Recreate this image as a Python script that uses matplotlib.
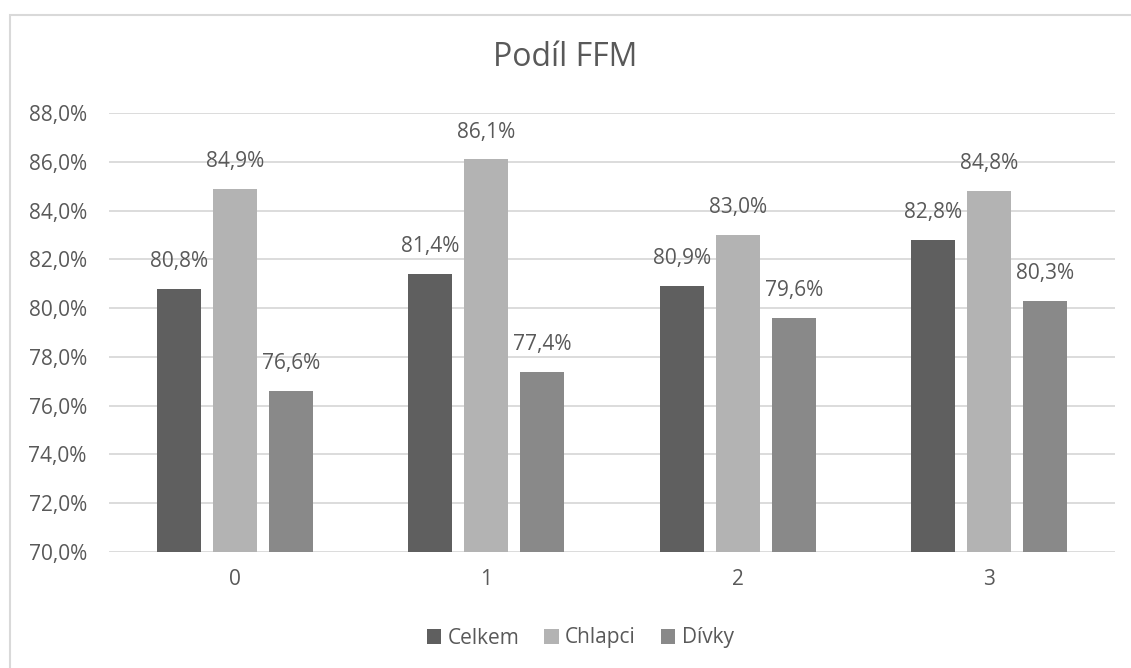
"""Podil FFM - grouped bar chart."""

import matplotlib
matplotlib.use("Agg")
import matplotlib.pyplot as plt
from matplotlib.patches import Rectangle
import numpy as np

categories = ["0", "1", "2", "3"]
series_names = ["Celkem", "Chlapci", "Dívky"]
celkem = [80.8, 81.4, 80.9, 82.8]
chlapci = [84.9, 86.1, 83.0, 84.8]
divky = [76.6, 77.4, 79.6, 80.3]
colors = ["#5f5f5f", "#b3b3b3", "#898989"]
yticks = [70, 72, 74, 76, 78, 80, 82, 84, 86, 88]

text_color = "#595959"
plt.rcParams["font.family"] = ["Open Sans", "DejaVu Sans"]

fig = plt.figure(figsize=(11.31, 6.68), dpi=100)
fig.patches.append(Rectangle((10 / 1131, -0.1), 1.2, 1 - 15 / 668 + 0.1,
                             transform=fig.transFigure, fill=False,
                             edgecolor="#d9d9d9", linewidth=1.5))
ax = fig.add_axes([109 / 1131, 1 - 552 / 668, (1115 - 109) / 1131, (552 - 113) / 668])

x = np.arange(len(categories))
width = 0.175
step = 0.2227
for i, (vals, name) in enumerate(zip([celkem, chlapci, divky], series_names)):
    pos = x + (i - 1) * step
    bars = ax.bar(pos, [v - 70 for v in vals], width, bottom=70,
                  color=colors[i], label=name, zorder=3)
    for p, v in zip(pos, vals):
        ax.annotate(f"{v:.1f}%".replace(".", ","), (p, v), xytext=(0, 12),
                    textcoords="offset points", ha="center", va="bottom",
                    fontsize=15, color=text_color)

ax.set_xlim(-0.5, len(categories) - 0.5)
ax.set_ylim(70, 88)
ax.set_yticks(yticks)
ax.set_yticklabels([f"{t:.1f}%".replace(".", ",") for t in yticks])
ax.set_xticks(x)
ax.set_xticklabels(categories)
ax.tick_params(axis="y", length=0, pad=16, labelsize=15, labelcolor=text_color)
ax.tick_params(axis="x", length=0, pad=12, labelsize=15, labelcolor=text_color)
ax.grid(axis="y", color="#d9d9d9", linewidth=1.3, zorder=0)
for s in ax.spines.values():
    s.set_visible(False)

fig.text(0.5, 1 - 57 / 668, "Podíl FFM", ha="center", va="center",
         fontsize=23, color=text_color)

fig.legend(loc="center", bbox_to_anchor=(580 / 1131, 1 - 638 / 668), ncol=3,
           frameon=False, fontsize=15, labelcolor=text_color,
           handlelength=0.7, handleheight=0.7, handletextpad=0.3, columnspacing=1.2)

fig.savefig("out.png", dpi=100)
